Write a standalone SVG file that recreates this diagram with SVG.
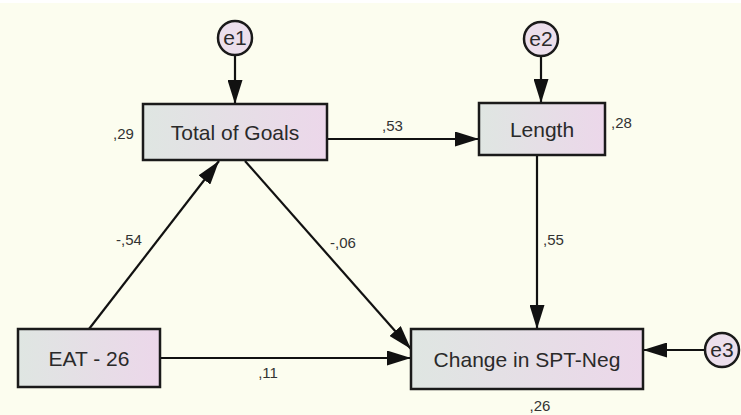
<svg xmlns="http://www.w3.org/2000/svg" width="741" height="415" viewBox="0 0 741 415">
  <defs>
    <linearGradient id="boxFill" x1="0" y1="0" x2="1" y2="0">
      <stop offset="0" stop-color="#dfe6e2"/>
      <stop offset="1" stop-color="#ecd7ea"/>
    </linearGradient>
    <marker id="arrow" viewBox="0 0 24 15" refX="24" refY="7.5" markerWidth="24" markerHeight="15" markerUnits="userSpaceOnUse" orient="auto">
      <path d="M0,0 L24,7.5 L0,15 Z" fill="#111"/>
    </marker>
  </defs>
  <style>
    .box { fill: url(#boxFill); stroke: #1a1a1a; stroke-width: 2.5; }
    .err { fill: #ecdfec; stroke: #1a1a1a; stroke-width: 2.5; }
    .label { font-family: "Liberation Sans", Arial, sans-serif; font-size: 21px; fill: #2a2a2a; text-anchor: middle; }
    .coef { font-family: "Liberation Sans", Arial, sans-serif; font-size: 15px; fill: #333; }
    .edge { stroke: #111; stroke-width: 2.2; fill: none; marker-end: url(#arrow); }
  </style>

  <rect x="0" y="0" width="741" height="415" fill="#fcfdef"/>
  <rect x="0" y="0" width="741" height="3" fill="#ffffff"/>

  <g id="connectors">
    <line class="edge" x1="235" y1="56" x2="235" y2="104"/>
    <line class="edge" x1="541" y1="57" x2="541" y2="103"/>
    <line class="edge" x1="327" y1="139" x2="479" y2="139"/>
    <line class="edge" x1="89" y1="329" x2="219" y2="161"/>
    <line class="edge" x1="245" y1="161" x2="411" y2="349"/>
    <line class="edge" x1="160" y1="358" x2="411" y2="358"/>
    <line class="edge" x1="537" y1="155" x2="537" y2="329"/>
    <line class="edge" x1="705" y1="350" x2="643" y2="350"/>
  </g>

  <g id="coefficients">
    <text class="coef" x="382" y="131">,53</text>
    <text class="coef" x="543" y="245">,55</text>
    <text class="coef" x="116" y="245">-,54</text>
    <text class="coef" x="330" y="248">-,06</text>
    <text class="coef" x="268" y="378" text-anchor="middle">,11</text>
  </g>

  <g id="e1">
    <circle class="err" cx="235" cy="38" r="17"/>
    <text class="label" x="235" y="45">e1</text>
  </g>
  <g id="e2">
    <circle class="err" cx="541" cy="39" r="17"/>
    <text class="label" x="541" y="46">e2</text>
  </g>
  <g id="e3">
    <circle class="err" cx="722" cy="350" r="17"/>
    <text class="label" x="722" y="357">e3</text>
  </g>

  <g id="total-of-goals">
    <rect class="box" x="143" y="104" width="184" height="56"/>
    <text class="label" x="235" y="140">Total of Goals</text>
    <text class="coef" x="113" y="139">,29</text>
  </g>
  <g id="length">
    <rect class="box" x="479" y="103" width="126" height="52"/>
    <text class="label" x="542" y="137">Length</text>
    <text class="coef" x="611" y="128">,28</text>
  </g>
  <g id="eat-26">
    <rect class="box" x="18" y="329" width="142" height="58"/>
    <text class="label" x="89" y="366">EAT - 26</text>
  </g>
  <g id="change-in-spt-neg">
    <rect class="box" x="411" y="329" width="232" height="60"/>
    <text class="label" x="527" y="367">Change in SPT-Neg</text>
    <text class="coef" x="540" y="411" text-anchor="middle">,26</text>
  </g>
</svg>
